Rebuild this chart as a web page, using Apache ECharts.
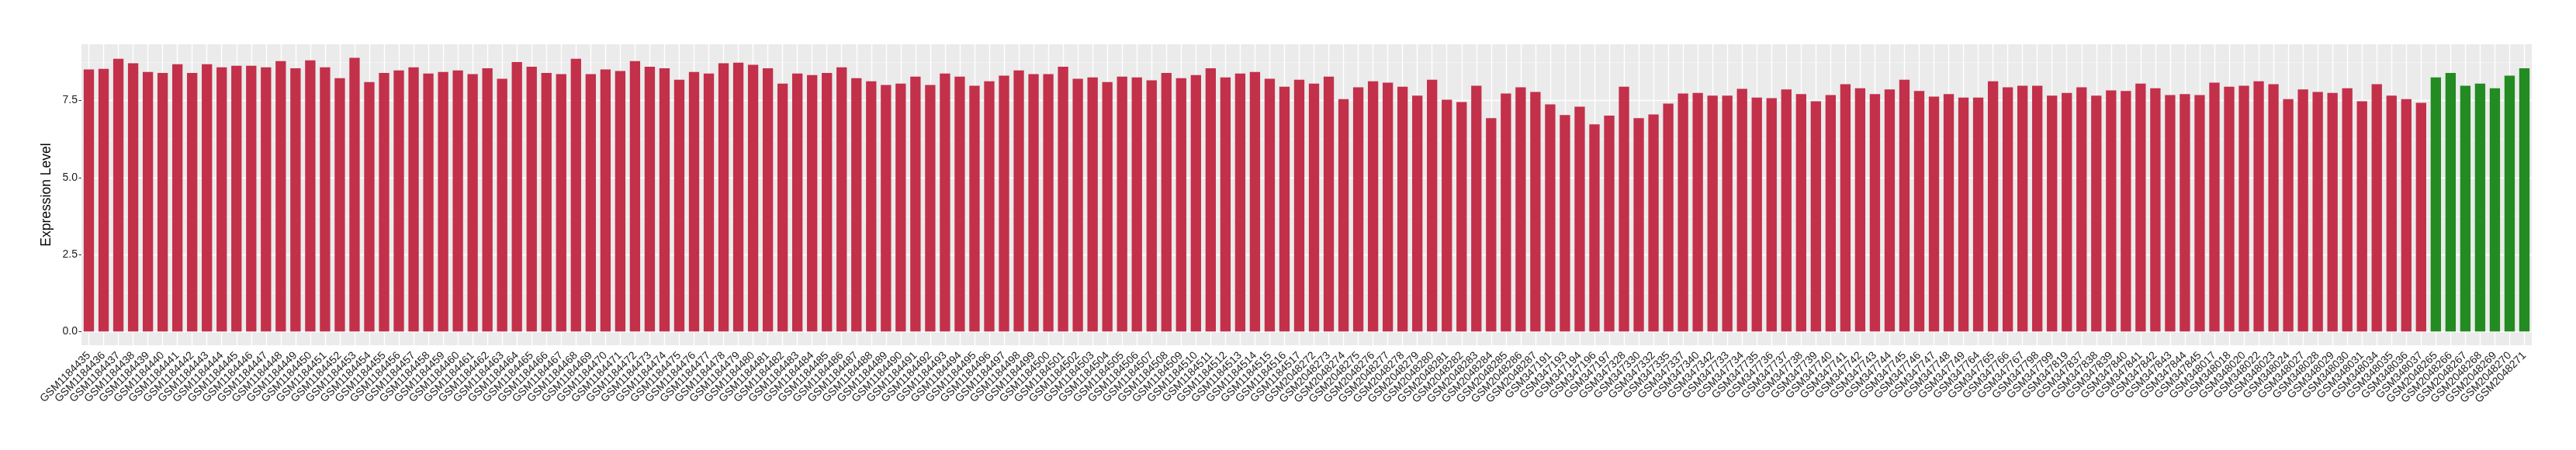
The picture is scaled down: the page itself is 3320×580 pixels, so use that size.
<!DOCTYPE html>
<html>
<head>
<meta charset="utf-8">
<script src="https://cdn.jsdelivr.net/npm/echarts@6/dist/echarts.min.js"></script>
<style>
html,body{margin:0;padding:0;background:#fff;}
#chart{width:3320px;height:580px;}
</style>
</head>
<body>
<div id="chart"></div>
<script>
const categories = [
  'GSM1184435','GSM1184436','GSM1184437','GSM1184438','GSM1184439','GSM1184440','GSM1184441','GSM1184442','GSM1184443','GSM1184444',
  'GSM1184445','GSM1184446','GSM1184447','GSM1184448','GSM1184449','GSM1184450','GSM1184451','GSM1184452','GSM1184453','GSM1184454',
  'GSM1184455','GSM1184456','GSM1184457','GSM1184458','GSM1184459','GSM1184460','GSM1184461','GSM1184462','GSM1184463','GSM1184464',
  'GSM1184465','GSM1184466','GSM1184467','GSM1184468','GSM1184469','GSM1184470','GSM1184471','GSM1184472','GSM1184473','GSM1184474',
  'GSM1184475','GSM1184476','GSM1184477','GSM1184478','GSM1184479','GSM1184480','GSM1184481','GSM1184482','GSM1184483','GSM1184484',
  'GSM1184485','GSM1184486','GSM1184487','GSM1184488','GSM1184489','GSM1184490','GSM1184491','GSM1184492','GSM1184493','GSM1184494',
  'GSM1184495','GSM1184496','GSM1184497','GSM1184498','GSM1184499','GSM1184500','GSM1184501','GSM1184502','GSM1184503','GSM1184504',
  'GSM1184505','GSM1184506','GSM1184507','GSM1184508','GSM1184509','GSM1184510','GSM1184511','GSM1184512','GSM1184513','GSM1184514',
  'GSM1184515','GSM1184516','GSM1184517',
  'GSM2048272','GSM2048273','GSM2048274','GSM2048275','GSM2048276','GSM2048277','GSM2048278','GSM2048279','GSM2048280','GSM2048281',
  'GSM2048282','GSM2048283','GSM2048284','GSM2048285','GSM2048286','GSM2048287',
  'GSM347191','GSM347193','GSM347194','GSM347196','GSM347197',
  'GSM347328','GSM347330','GSM347332','GSM347335','GSM347337','GSM347340','GSM347342',
  'GSM347733','GSM347734','GSM347735','GSM347736','GSM347737','GSM347738','GSM347739','GSM347740','GSM347741','GSM347742',
  'GSM347743','GSM347744','GSM347745','GSM347746','GSM347747','GSM347748','GSM347749',
  'GSM347764','GSM347765','GSM347766','GSM347767',
  'GSM347798','GSM347799','GSM347819',
  'GSM347837','GSM347838','GSM347839','GSM347840','GSM347841','GSM347842','GSM347843','GSM347844','GSM347845',
  'GSM348017','GSM348018','GSM348020','GSM348022','GSM348023','GSM348024','GSM348027','GSM348028','GSM348029','GSM348030',
  'GSM348031','GSM348034','GSM348035','GSM348036','GSM348037',
  'GSM2048265','GSM2048266','GSM2048267','GSM2048268','GSM2048269','GSM2048270','GSM2048271'
];

const values = [
  8.51,8.53,8.86,8.71,8.43,8.40,8.68,8.40,8.68,8.58,
  8.63,8.63,8.58,8.78,8.55,8.81,8.58,8.23,8.89,8.10,
  8.40,8.48,8.58,8.38,8.43,8.48,8.36,8.55,8.21,8.75,
  8.60,8.40,8.36,8.86,8.36,8.51,8.46,8.78,8.60,8.55,
  8.18,8.43,8.38,8.71,8.73,8.66,8.55,8.05,8.38,8.33,
  8.40,8.58,8.23,8.13,8.01,8.05,8.28,8.01,8.38,8.28,
  7.98,8.13,8.31,8.48,8.36,8.36,8.60,8.21,8.25,8.10,
  8.28,8.25,8.16,8.40,8.23,8.33,8.55,8.25,8.38,8.43,
  8.21,7.95,8.18,
  8.05,8.28,7.55,7.93,8.13,8.08,7.95,7.66,8.18,7.53,
  7.45,7.98,6.93,7.73,7.93,7.78,
  7.38,7.03,7.30,6.73,7.01,
  7.95,6.93,7.05,7.40,7.73,7.75,7.66,
  7.66,7.88,7.60,7.58,7.86,7.71,7.48,7.68,8.03,7.90,
  7.71,7.86,8.18,7.81,7.63,7.71,7.60,
  7.60,8.13,7.93,7.98,
  7.98,7.66,7.75,
  7.93,7.66,7.83,7.81,8.05,7.90,7.68,7.71,7.68,
  8.08,7.95,7.98,8.13,8.03,7.55,7.86,7.78,7.75,7.90,
  7.48,8.03,7.66,7.55,7.43,
  8.25,8.40,7.98,8.05,7.90,8.31,8.55
];

// samples drawn in green (the rest are red)
const greenSamples = ['GSM2048265','GSM2048266','GSM2048267','GSM2048268','GSM2048269','GSM2048270','GSM2048271'];

const yTicks = [0, 2.5, 5, 7.5];
const yMinorTicks = [1.25, 3.75, 6.25, 8.75];
const yTitle = 'Expression Level';

const RED = '#C3304A';
const GREEN = '#228B22';
const TEXT = '#1A1A1A';
const FONT = 'Liberation Sans, Arial, Helvetica, sans-serif';

const chart = echarts.init(document.getElementById('chart'), null, {renderer: 'canvas'});

const gridLines = []
  .concat(yMinorTicks.map(v => ({yAxis: v, lineStyle: {color: '#F5F5F5', width: 0.9, type: 'solid'}})))
  .concat(yTicks.map(v => ({yAxis: v, lineStyle: {color: '#FFFFFF', width: 1.4, type: 'solid'}})))
  .concat(categories.map(c => ({xAxis: c, lineStyle: {color: '#FFFFFF', width: 1.4, type: 'solid'}})));

const option = {
  animation: false,
  backgroundColor: '#ffffff',
  grid: {
    left: 105, right: 57, top: 57, bottom: 135,
    show: true, backgroundColor: '#EBEBEB', borderWidth: 0,
    containLabel: false,
    outerBoundsMode: 'none'
  },
  xAxis: {
    type: 'category',
    data: categories,
    boundaryGap: true,
    axisLine: {show: false},
    axisTick: {show: true, alignWithLabel: true, length: 3.5, lineStyle: {color: '#333333', width: 1}},
    axisLabel: {
      interval: 0, rotate: 45, fontSize: 14, color: TEXT, fontFamily: FONT, margin: 11
    },
    splitLine: {show: false}
  },
  yAxis: {
    type: 'value',
    min: -0.445,
    max: 9.33,
    name: yTitle,
    nameLocation: 'middle',
    nameRotate: 90,
    nameGap: 33,
    nameTextStyle: {fontSize: 17.5, color: '#000000', fontFamily: FONT},
    axisLine: {show: false},
    axisTick: {show: true, customValues: yTicks, length: 3.5, lineStyle: {color: '#333333', width: 1}},
    axisLabel: {show: true, customValues: yTicks, fontSize: 14, color: TEXT, fontFamily: FONT, margin: 5,
      formatter: v => v.toFixed(1)},
    splitLine: {show: false}
  },
  series: [
    {
      type: 'line',
      data: [],
      z: 1,
      silent: true,
      markLine: {
        z: 1,
        silent: true,
        symbol: 'none',
        label: {show: false},
        animation: false,
        data: gridLines
      }
    },
    {
      type: 'bar',
      z: 3,
      barWidth: '70%',
      data: values.map((v, i) => ({
        value: v,
        itemStyle: {color: greenSamples.includes(categories[i]) ? GREEN : RED}
      }))
    }
  ]
};
chart.setOption(option);
</script>
</body>
</html>
